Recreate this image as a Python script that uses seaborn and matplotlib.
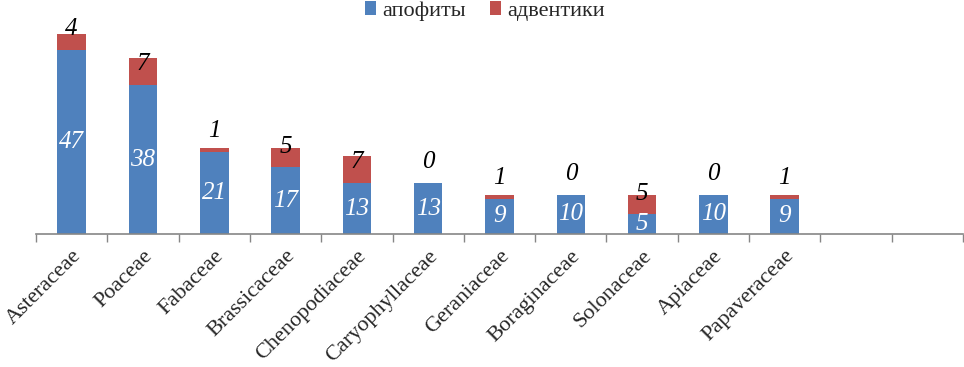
import matplotlib
matplotlib.use("Agg")
import matplotlib.pyplot as plt
import seaborn as sns
import pandas as pd
from matplotlib.patches import Patch

families = ["Asteraceae", "Poaceae", "Fabaceae", "Brassicaceae", "Chenopodiaceae",
            "Caryophyllaceae", "Geraniaceae", "Boraginaceae", "Solonaceae",
            "Apiaceae", "Papaveraceae"]
apophytes = [47, 38, 21, 17, 13, 13, 9, 10, 5, 10, 9]
adventives = [4, 7, 1, 5, 7, 0, 1, 0, 5, 0, 1]
empty_slots = ["", " "]
series_names = ["апофиты", "адвентики"]

BLUE = "#4F81BD"
RED = "#C0504D"
GRAY = "#868686"

sns.set_theme(style="white")
plt.rcParams["font.family"] = ["Liberation Serif", "DejaVu Serif"]

order = families + empty_slots
df = pd.DataFrame({"family": families, "apo": apophytes, "adv": adventives})
df["total"] = df["apo"] + df["adv"]

fig = plt.figure(figsize=(9.64, 3.67), dpi=100)
ax = fig.add_axes([36 / 964, (367 - 234) / 367, 927 / 964, 214 / 367])

sns.barplot(data=df, x="family", y="total", order=order, color=RED,
            saturation=1, width=0.4, ax=ax, linewidth=0)
sns.barplot(data=df, x="family", y="apo", order=order, color=BLUE,
            saturation=1, width=0.4, ax=ax, linewidth=0)

ax.set_xlim(-0.5, len(order) - 0.5)
ax.set_ylim(0, 214 / 3.92)
ax.set_xlabel("")
ax.set_ylabel("")
ax.set_yticks([])

for s in ["top", "right", "left"]:
    ax.spines[s].set_visible(False)
ax.spines["bottom"].set_color(GRAY)
ax.spines["bottom"].set_linewidth(1.2)

ax.set_xticks(range(len(order)))
ax.set_xticklabels(order, rotation=45, ha="right", va="top",
                   rotation_mode="anchor", fontsize=16)
ax.tick_params(axis="x", which="major", length=0, pad=9)
ax.set_xticks([i - 0.5 for i in range(len(order) + 1)], minor=True)
ax.tick_params(axis="x", which="minor", length=6, width=1, color=GRAY,
               direction="out", bottom=True)

for i, (a, d) in enumerate(zip(apophytes, adventives)):
    ax.text(i, a / 2, str(a), color="white", ha="center", va="center",
            fontsize=18, fontstyle="italic")
    ax.annotate(str(d), xy=(i, a), xytext=(0, 15), textcoords="offset points",
                ha="center", va="center", fontsize=18, fontstyle="italic",
                color="black")

handles = [Patch(facecolor=BLUE, edgecolor="none"),
           Patch(facecolor=RED, edgecolor="none")]
fig.legend(handles, series_names, loc="upper center", bbox_to_anchor=(0.503, 1.052),
           ncol=2, frameon=False, fontsize=16, handlelength=0.5, handleheight=0.6,
           handletextpad=0.25, columnspacing=1.1)

fig.savefig("out.png", dpi=100)
